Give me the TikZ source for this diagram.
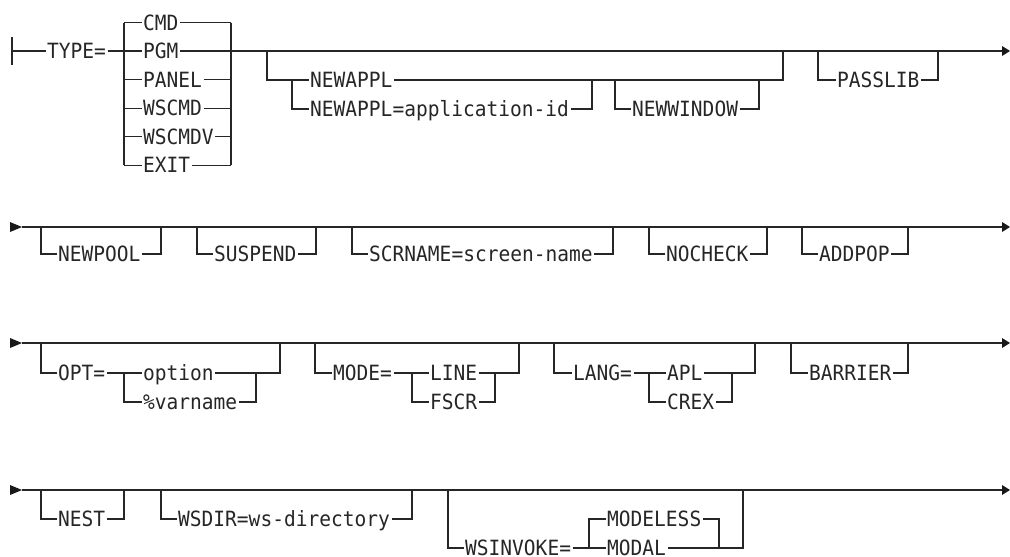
\documentclass[tikz,border=0pt]{standalone}
\usepackage{fontspec}
\newfontfamily\rrfont[FakeStretch=0.93]{DejaVu Sans Mono}
\begin{document}
\begin{tikzpicture}[x=1pt,y=-1pt,
  rail/.style={line width=1.1pt,color=black!85},
  kw/.style={anchor=west,inner xsep=1.5pt,inner ysep=0pt,text height=15.2pt,text depth=0pt,
     font=\rrfont\fontsize{21pt}{22pt}\selectfont,text=black!85},
  endtip/.style={fill=black!90}]
\useasboundingbox (0,0) rectangle (1010,557);
% ================= Row 1 =================
\draw[rail] (12,37) -- (12,65);
\draw[line width=2.2pt,black!85] (21,51) -- (28,51);
\node[kw] (type) at (45.5,51) {TYPE=};
\draw[rail] (12,51) -- (type.west);
\foreach \n/\t/\y in {cmd/CMD/22.7,pgm/PGM/51,panel/PANEL/79.7,wscmd/WSCMD/108.2,wscmdv/WSCMDV/136.7,exit/EXIT/165.2}{
  \node[kw] (\n) at (141.5,\y) {\t};
  \draw[rail] (124,\y) -- (\n.west);
  \draw[rail] (\n.east) -- (231,\y);
}
\draw[rail] (type.east) -- (124,51);
\draw[rail] (124,22.7) -- (124,165.2);
\draw[rail] (231,22.7) -- (231,165.2);
\coordinate (end1) at (1002,51);
\draw[rail] (231,51) -- (end1);
\fill[endtip] (1002,46) -- (1010,51) -- (1002,56) -- cycle;
% NEWAPPL block
\node[kw] (newappl) at (308.5,80) {NEWAPPL};
\node[kw] (newapplid) at (308.5,109) {NEWAPPL=application-id};
\node[kw] (newwin) at (630.5,109) {NEWWINDOW};
\draw[rail] (267,51) -- (267,80) -- (292,80) -- (newappl.west);
\draw[rail] (292,80) -- (292,109) -- (newapplid.west);
\draw[rail] (newapplid.east) -- (592,109) -- (592,80);
\draw[rail] (newappl.east) -- (783,80) -- (783,51);
\draw[rail] (615,80) -- (615,109) -- (newwin.west);
\draw[rail] (newwin.east) -- (759,109) -- (759,80);
% PASSLIB
\node[kw] (passlib) at (835.5,80) {PASSLIB};
\draw[rail] (818,51) -- (818,80) -- (passlib.west);
\draw[rail] (passlib.east) -- (938,80) -- (938,51);
% ================= Row 2 =================
\fill[endtip] (10,222) -- (22,227) -- (10,232) -- cycle;
\coordinate (end2) at (1002,227);
\draw[rail] (22,227) -- (end2);
\fill[endtip] (1002,222) -- (1010,227) -- (1002,232) -- cycle;
\foreach \n/\t/\l/\r in {newpool/NEWPOOL/41/161,suspend/SUSPEND/197/316,scrname/SCRNAME=screen-name/352/613,nocheck/NOCHECK/649/767,addpop/ADDPOP/802/908}{
  \node[kw] (\n) at (\l+15.5,254) {\t};
  \draw[rail] (\l,227) -- (\l,254) -- (\n.west);
  \draw[rail] (\n.east) -- (\r,254) -- (\r,227);
}
% ================= Row 3 =================
\fill[endtip] (10,338) -- (22,343) -- (10,348) -- cycle;
\coordinate (end3) at (1002,343);
\draw[rail] (22,343) -- (end3);
\fill[endtip] (1002,338) -- (1010,343) -- (1002,348) -- cycle;
% OPT
\node[kw] (opt) at (56.5,373) {OPT=};
\node[kw] (option) at (141.5,373) {option};
\node[kw] (varname) at (141.5,402) {\%varname};
\draw[rail] (41,343) -- (41,373) -- (opt.west);
\draw[rail] (opt.east) -- (124,373) -- (option.west);
\draw[rail] (124,373) -- (124,402) -- (varname.west);
\draw[rail] (varname.east) -- (256,402) -- (256,373);
\draw[rail] (option.east) -- (280,373) -- (280,343);
% MODE
\node[kw] (mode) at (331.5,373) {MODE=};
\node[kw] (line) at (428.5,373) {LINE};
\node[kw] (fscr) at (428.5,402) {FSCR};
\draw[rail] (315,343) -- (315,373) -- (mode.west);
\draw[rail] (mode.east) -- (412,373) -- (line.west);
\draw[rail] (412,373) -- (412,402) -- (fscr.west);
\draw[rail] (fscr.east) -- (495,402) -- (495,373);
\draw[rail] (line.east) -- (519,373) -- (519,343);
% LANG
\node[kw] (lang) at (571.5,373) {LANG=};
\node[kw] (apl) at (665.5,373) {APL};
\node[kw] (crex) at (665.5,402) {CREX};
\draw[rail] (554,343) -- (554,373) -- (lang.west);
\draw[rail] (lang.east) -- (649,373) -- (apl.west);
\draw[rail] (649,373) -- (649,402) -- (crex.west);
\draw[rail] (crex.east) -- (732,402) -- (732,373);
\draw[rail] (apl.east) -- (755,373) -- (755,343);
% BARRIER
\node[kw] (barrier) at (807.5,373) {BARRIER};
\draw[rail] (791,343) -- (791,373) -- (barrier.west);
\draw[rail] (barrier.east) -- (908,373) -- (908,343);
% ================= Row 4 =================
\fill[endtip] (10,485) -- (22,490) -- (10,495) -- cycle;
\coordinate (end4) at (1002,490);
\draw[rail] (22,490) -- (end4);
\fill[endtip] (1002,485) -- (1010,490) -- (1002,495) -- cycle;
\foreach \n/\t/\l/\r in {nest/NEST/41/124,wsdir/WSDIR=ws-directory/161/412}{
  \node[kw] (\n) at (\l+15.5,519) {\t};
  \draw[rail] (\l,490) -- (\l,519) -- (\n.west);
  \draw[rail] (\n.east) -- (\r,519) -- (\r,490);
}
\node[kw] (wsinv) at (463.5,548) {WSINVOKE=};
\node[kw] (modeless) at (605.5,519) {MODELESS};
\node[kw] (modal) at (605.5,548) {MODAL};
\draw[rail] (448,490) -- (448,548) -- (wsinv.west);
\draw[rail] (wsinv.east) -- (589,548) -- (modal.west);
\draw[rail] (589,548) -- (589,519) -- (modeless.west);
\draw[rail] (modeless.east) -- (719,519) -- (719,548);
\draw[rail] (modal.east) -- (743,548) -- (743,490);
\end{tikzpicture}
\end{document}
